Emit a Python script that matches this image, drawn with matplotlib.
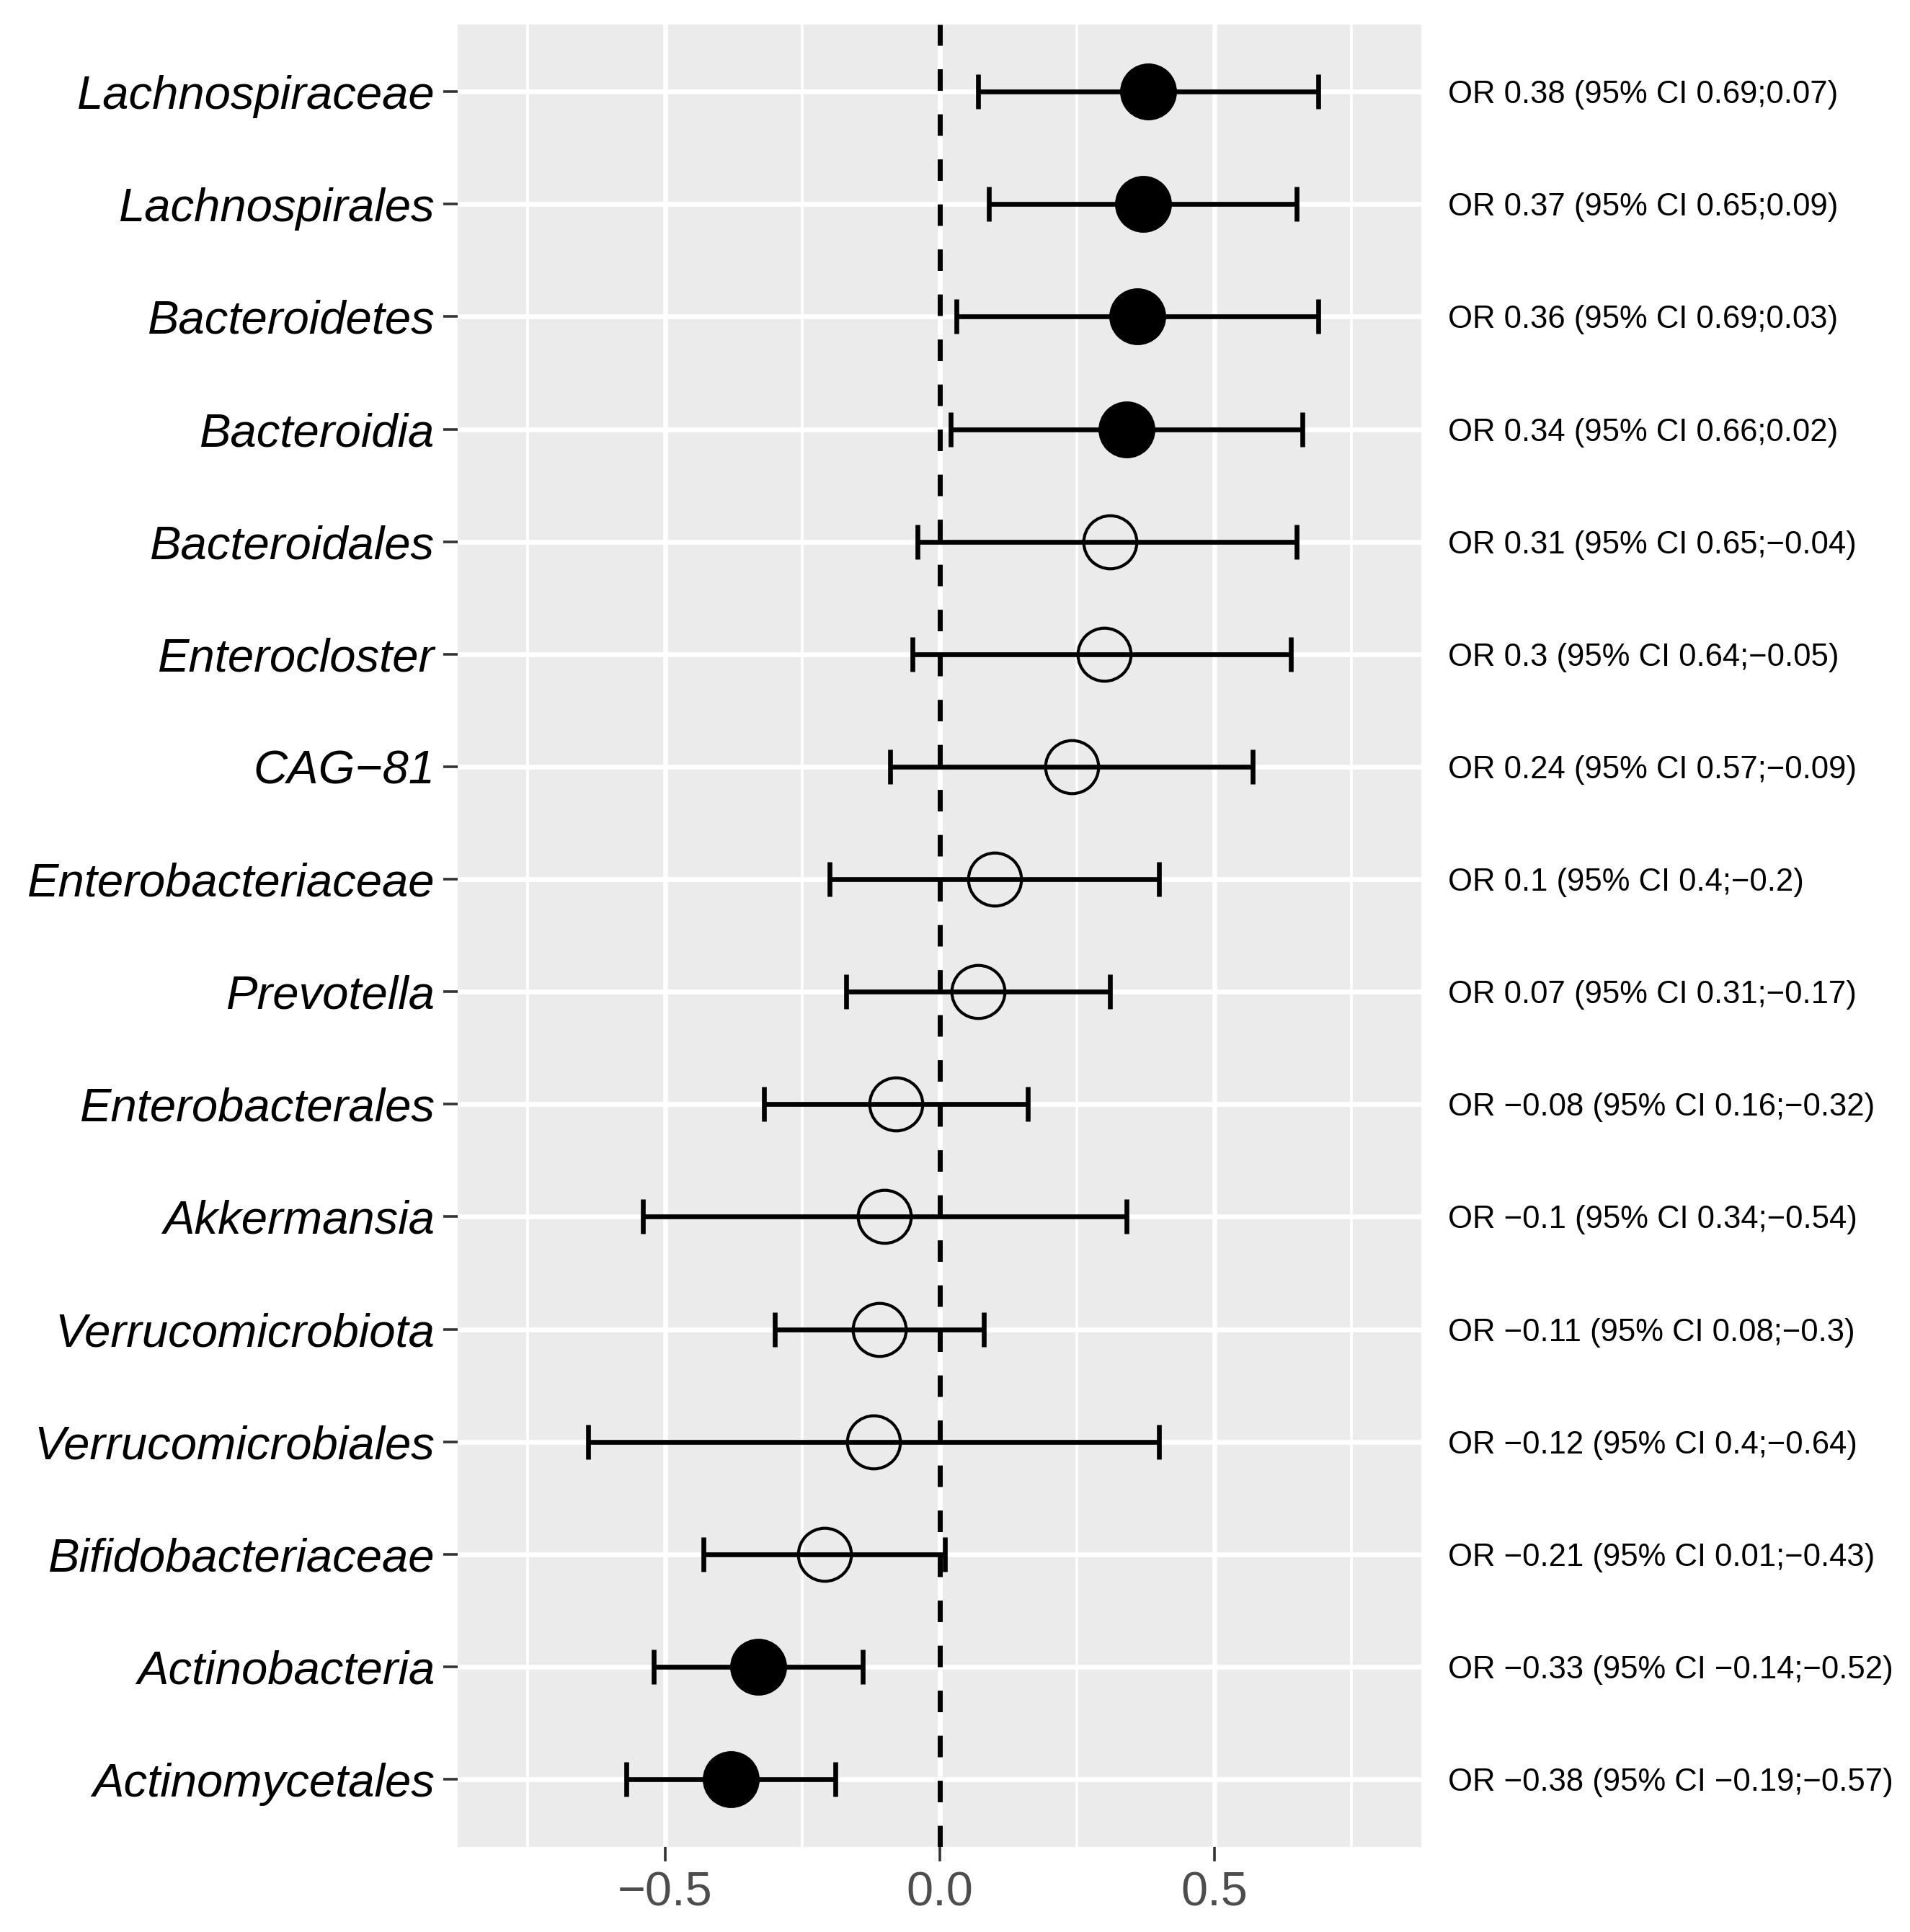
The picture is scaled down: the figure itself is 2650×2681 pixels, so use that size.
import matplotlib
matplotlib.use("Agg")
import matplotlib.pyplot as plt
import numpy as np

plt.rcParams['font.family'] = ['Liberation Sans', 'DejaVu Sans']

# rows listed top to bottom
taxa = ["Lachnospiraceae", "Lachnospirales", "Bacteroidetes", "Bacteroidia",
        "Bacteroidales", "Enterocloster", "CAG\u221281", "Enterobacteriaceae",
        "Prevotella", "Enterobacterales", "Akkermansia", "Verrucomicrobiota",
        "Verrucomicrobiales", "Bifidobacteriaceae", "Actinobacteria",
        "Actinomycetales"]
est = [0.38, 0.37, 0.36, 0.34, 0.31, 0.30, 0.24, 0.10, 0.07, -0.08, -0.10,
       -0.11, -0.12, -0.21, -0.33, -0.38]
upper = [0.69, 0.65, 0.69, 0.66, 0.65, 0.64, 0.57, 0.40, 0.31, 0.16, 0.34,
         0.08, 0.40, 0.01, -0.14, -0.19]
lower = [0.07, 0.09, 0.03, 0.02, -0.04, -0.05, -0.09, -0.20, -0.17, -0.32,
         -0.54, -0.30, -0.64, -0.43, -0.52, -0.57]
significant = [True, True, True, True, False, False, False, False, False,
               False, False, False, False, False, True, True]


def fmt(v):
    s = ('%.2f' % v).rstrip('0').rstrip('.')
    return s.replace('-', '\u2212')


fig = plt.figure(figsize=(13.25, 13.405), dpi=200)
ax = fig.add_axes([0.2395, 0.0441, 0.5046, 0.9434])
ax.set_facecolor('#EBEBEB')

n = len(taxa)
ypos = np.arange(n, 0, -1)

# grid
for x in [-0.75, -0.25, 0.25, 0.75]:
    ax.axvline(x, color='white', lw=1.3, zorder=0.5)
for x in [-0.5, 0.0, 0.5]:
    ax.axvline(x, color='white', lw=2.4, zorder=0.6)
for y in ypos:
    ax.axhline(y, color='white', lw=2.4, zorder=0.6)

ax.axvline(0, color='black', lw=2.5, dashes=(4.3, 4.7), zorder=1)

est = np.array(est)
lo = np.array(lower)
hi = np.array(upper)
ax.errorbar(est, ypos, xerr=[est - lo, hi - est], fmt='none', ecolor='black',
            elinewidth=2.4, capsize=8.5, capthick=2.4, zorder=2)

sig = np.array(significant)
ax.plot(est[sig], ypos[sig], 'o', ms=27, mfc='black', mec='black', mew=1.4,
        zorder=3)
ax.plot(est[~sig], ypos[~sig], 'o', ms=26.5, mfc='none', mec='black', mew=1.5,
        zorder=3)

ax.set_xlim(-0.878, 0.877)
ax.set_ylim(0.4, n + 0.6)
ax.set_xticks([-0.5, 0.0, 0.5])
ax.set_xticklabels(['\u22120.5', '0.0', '0.5'])
ax.set_yticks(ypos)
ax.set_yticklabels(taxa, fontstyle='italic', fontsize=23.5, color='black')
ax.tick_params(axis='x', labelsize=24, labelcolor='#4D4D4D', length=7.2,
               width=1.3, color='#333333', pad=5)
ax.tick_params(axis='y', length=7.2, width=1.3, color='#333333', pad=4)
for s in ax.spines.values():
    s.set_visible(False)

for y, e, h, l in zip(ypos, est, hi, lo):
    ax.annotate('OR %s (95%% CI %s;%s)' % (fmt(e), fmt(h), fmt(l)),
                xy=(1, y), xycoords=('axes fraction', 'data'),
                xytext=(0.758, 0), textcoords=('figure fraction', 'offset points'),
                fontsize=15.7, va='center_baseline', ha='left', color='black')

fig.savefig('out.png', dpi=200, facecolor='white')
